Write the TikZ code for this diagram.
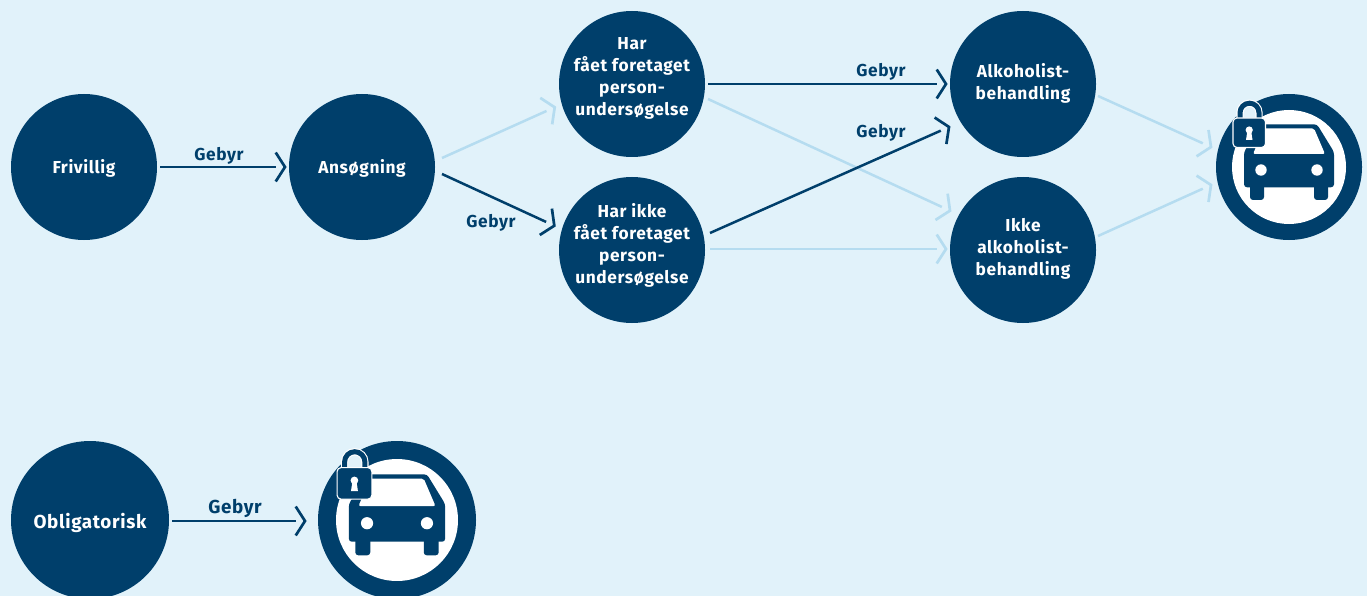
\documentclass[tikz,border=0pt]{standalone}
\usepackage{fontspec}
\setmainfont{Fira Sans}[LetterSpace=3.5]
\usetikzlibrary{calc,decorations.markings}
\definecolor{bgc}{HTML}{E1F2FA}
\definecolor{dk}{HTML}{003F6B}
\definecolor{lt}{HTML}{B5DCF0}
\tikzset{
  x=1pt,y=-1pt,
  circ/.style={circle,fill=dk,inner sep=0pt,outer sep=0pt,minimum size=#1},
  txt/.style={text=white,inner sep=0pt,align=center,font=\fontsize{17.3}{22}\selectfont\bfseries},
  lbl/.style={text=dk,inner sep=0pt,font=\fontsize{17.3}{20}\selectfont\bfseries},
  chev/.style={decoration={markings,mark=at position 1 with {
      \draw[#1,line width=2.7pt,shorten >=0pt,line cap=butt,line join=miter] (-9.3,14.5)--(0,0)--(-9.3,-14.5);}},postaction={decorate}},
  conn/.style={draw=#1,line width=2.5pt,chev=#1},
  carlock/.pic={
    \fill[white] (0,0) circle (57);
    % car
    \fill[dk,rounded corners=3pt] (-28,-42.7)--(28,-42.7)--(45,-15)--(45,20.3)--(-45,20.3)--(-45,-15)--cycle;
    \fill[dk,rounded corners=3pt] (-39,15)--(-25,15)--(-25,33)--(-39,33)--cycle;
    \fill[dk,rounded corners=3pt] (25,15)--(39,15)--(39,33)--(25,33)--cycle;
    \fill[white,rounded corners=2pt] (-25,-38.7)--(25,-38.7)--(36,-13)--(-36,-13)--cycle;
    \fill[white] (-28,3) circle (5.7) (28,3) circle (5.7);
    % lock
    \fill[bgc] (-49,-47)--(-49,-54.3) arc[start angle=180,end angle=360,radius=9.5]--(-30,-47)--cycle;
    \draw[white,line width=7.2pt] (-49,-47)--(-49,-54.3) arc[start angle=180,end angle=360,radius=9.5]--(-30,-47);
    \draw[dk,line width=5pt] (-49,-47)--(-49,-54.3) arc[start angle=180,end angle=360,radius=9.5]--(-30,-47);
    \fill[dk,draw=white,line width=1.1pt,rounded corners=4pt] (-56,-49)--(-23.5,-49)--(-23.5,-19.5)--(-56,-19.5)--cycle;
    \fill[white] (-39.8,-37) circle (3.6);
    \fill[white] (-41.5,-37)--(-38,-37)--(-36.5,-27)--(-43,-27)--cycle;
  }
}
\begin{document}
\begin{tikzpicture}
\useasboundingbox (0,0) rectangle (1367,596);
\clip (0,0) rectangle (1367,596);
\fill[bgc] (0,0) rectangle (1367,596);

\node[circ=146pt,label={[txt,yshift=-1.5pt]center:Frivillig}] (fri) at (84,167) {};
\node[circ=146pt,label={[txt,yshift=-1.5pt]center:Ansøgning}] (ans) at (362,167) {};
\node[circ=146pt,label={[txt,yshift=5.5pt]center:{Har\\fået foretaget\\person-\\undersøgelse}}] (har) at (632,84) {};
\node[circ=146pt,label={[txt,yshift=5pt]center:{Har ikke\\fået foretaget\\person-\\undersøgelse}}] (nohar) at (632,250) {};
\node[circ=146pt,label={[txt,yshift=1pt]center:{Alkoholist-\\behandling}}] (alk) at (1023,84) {};
\node[circ=146pt,label={[txt,yshift=1pt]center:{Ikke\\alkoholist-\\behandling}}] (ikke) at (1023,250) {};
\node[circ=146pt] (car) at (1289,167) {};
\node[circ=158pt,label={[txt,yshift=-2.5pt,font=\fontsize{18.8}{22}\selectfont\bfseries]center:Obligatorisk}] (obl) at (90,520) {};
\node[circ=158pt] (carb) at (397,520) {};

\pic at (car) {carlock};
\pic[scale=1.07] at (carb) {carlock};

\path[conn=dk,shorten >=9pt] ($(fri)+(76,0)$) -- ($(ans)+(-77,0)$);
\path[conn=lt,shorten >=9pt] ($(ans)+(80,-9)$) -- ($(har)+(-77.3,23.3)$);
\path[conn=dk,shorten >=9pt] ($(ans)+(80,7)$) -- ($(nohar)+(-77.7,-24.3)$);
\path[conn=dk,shorten >=9pt] ($(har)+(76,0)$) -- ($(alk)+(-77,0)$);
\path[conn=lt,shorten >=9pt] ($(har)+(76,15)$) -- ($(ikke)+(-73,-39.3)$);
\path[conn=dk,shorten >=9pt] ($(nohar)+(78,-17)$) -- ($(alk)+(-74,43)$);
\path[conn=lt,shorten >=9pt] ($(nohar)+(78,-1)$) -- ($(ikke)+(-77,-1)$);
\path[conn=lt,shorten >=9pt] ($(alk)+(75,12)$) -- ($(car)+(-78,-20)$);
\path[conn=lt,shorten >=9pt] ($(ikke)+(75,-14)$) -- ($(car)+(-78,18)$);
\path[conn=dk,shorten >=9pt] ($(obl)+(82,1)$) -- ($(carb)+(-92,1)$);

\node[lbl] (g1) at (219,155.5) {Gebyr};
\node[lbl] (g2) at (491,222.5) {Gebyr};
\node[lbl] (g3) at (881,71.5) {Gebyr};
\node[lbl] (g4) at (881,132.5) {Gebyr};
\node[lbl,font=\fontsize{18.8}{20}\selectfont\bfseries] (g5) at (235,508.5) {Gebyr};
\end{tikzpicture}
\end{document}
